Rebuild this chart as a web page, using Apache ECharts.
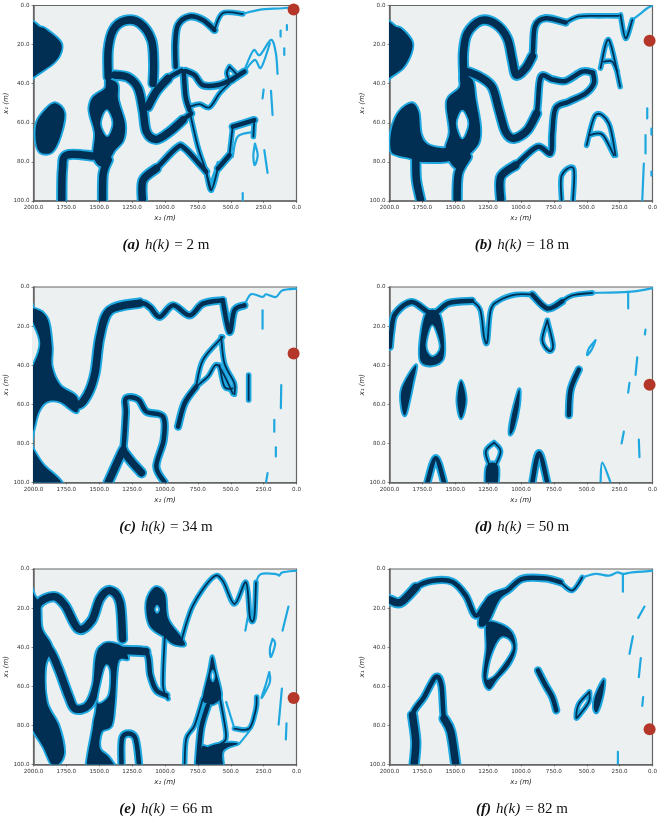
<!DOCTYPE html>
<html>
<head>
<meta charset="utf-8">
<style>html,body{margin:0;padding:0;background:#fff}#chart{width:662px;height:821px}</style>
<script src="https://cdn.jsdelivr.net/npm/echarts@6/dist/echarts.min.js"></script>
</head>
<body>
<div id="chart"></div>
<script>
const heights = [2, 18, 34, 50, 66, 82];
const letters = ['a', 'b', 'c', 'd', 'e', 'f'];

// all regions are [x2, x1] points,
// outlines that run off the frame carry a point past the axis so they leave it cleanly
// (a) h = 2
const aBlobs = [
  [[2040,10],[1950,11],[1900,12.5],[1793,19],[1800,25],[1860,30],[2000,36.5],[2040,40]],
  [[1836,50],[1765,55],[1798,67],[1861,75],[1949,75],[1982,69],[1975,60],[1911,53.5]],
  [[1575,52],[1545,46.7],[1457,42.4],[1444,38],[1363,40],[1356,48.4],[1305,60.3],[1318,69],[1381,74],[1444,81],[1500,82],[1545,76.6],[1533,65.5],[1565,57]]
];
const aHoles = [
  [[1444,53.5],[1399,60],[1439,66.8],[1487,60.3]]
];
const aWide = [
  [[1432,36.4],[1432,22.7],[1394,12.5],[1305,7.7],[1192,9],[1103,17.6],[1086,29.6],[1091,39.8]],
  [[1381,35.6],[1280,36.8],[1204,42.4],[1167,53.5],[1141,64.6],[1066,68.5],[965,64.6],[864,58.6]],
  [[1129,51.8],[1066,44],[977,37.3]],
  [[1785,100],[1780,84],[1747,76.5],[1545,77]],
  [[1475,100],[1470,86],[1432,79]],
  [[1172,100],[1167,89.4],[1066,83.4]]
];
const aMid = [
  [[965,64.6],[864,58.6],[800,55.2]],
  [[1066,44],[977,37.3],[876,33.3]],
  [[858,33.8],[843,46.7],[813,53.5]],
  [[843,33.5],[775,35.6],[712,40.7],[598,40.7],[497,38],[396,33.8]],
  [[919,31.3],[922,19.3],[901,9.9],[813,5.6],[712,7.4],[624,12.5]],
  [[1167,89.4],[1066,83.4],[914,73],[851,73],[687,85]],
  [[598,83.4],[510,76.6]],
  [[485,62],[321,58.6]]
];
const aThin = [
  [[808,55.6],[750,72.3],[699,82.6],[649,94.5]],
  [[813,51.8],[737,50.4],[661,52.1],[586,45],[510,39.8]],
  [[510,31.3],[455,35.6],[497,39],[530,34.7],[510,31.3]],
  [[687,85],[649,94.5],[598,83.4]],
  [[510,76.6],[485,62]],
  [[321,58.6],[328,67]],
  [[624,12.5],[561,3.9],[409,4.3]]
];
const aTrace = [
  [[409,4.3],[283,2.2],[106,1.4],[0,0.6]],
  [[396,33],[328,23],[278,25.3],[194,17.6],[157,24.4],[144,35]],
  [[422,36.4],[321,27.9],[270,31.8],[202,19.3]],
  [[121,12.8],[121,15.9]],
  [[73,10],[73,12.5]],
  [[93,21.9],[93,25.3]],
  [[250,43],[258,47.5]],
  [[194,43.6],[182,56]],
  [[409,96],[409,100]],
  [[316,70.6],[295,76.6],[318,81.7],[328,76.6],[316,70.6]],
  [[245,74],[220,85.6]],
  [[485,77.4],[447,67],[321,64.6]],
  [[649,90],[598,80]]
];

// (b) h = 18
const bBlobs = [
  [[2040,10],[1950,11],[1900,12.5],[1830,18.5],[1838,24.5],[1900,32],[2000,37],[2040,41]],
  [[1990,74],[1985,63.8],[1927,54.4],[1831,50],[1780,54.4],[1762,65.5],[1712,71],[1598,73],[1522,72.3],[1522,79],[1750,80],[1851,78],[1940,76.6]],
  [[1565,51.8],[1547,46.7],[1466,41.9],[1458,35.6],[1370,38],[1344,48.4],[1311,62],[1324,70.6],[1408,77.4],[1458,83.4],[1509,82.6],[1560,77.4],[1572,72.3],[1542,64.6]]
];
const bHoles = [
  [[1446,53.8],[1400,60.3],[1446,68],[1489,60.3]]
];
const bWide = [
  [[1800,79],[1795,89.4],[1762,100]],
  [[1486,100],[1476,86],[1408,77.4]],
  [[1433,38],[1438,24.4],[1408,14.2],[1306,7.7],[1193,9.4],[1104,16.8],[1066,27.9],[1036,35.6],[965,32],[914,26]],
  [[1408,33.8],[1306,36.8],[1218,41.9],[1167,53.5],[1117,64.6],[1053,68],[952,63.8],[881,55.2]],
  [[1041,81.7],[1154,87.7],[1154,100]]
];
const bMid = [
  [[965,32],[914,26],[894,10.8],[813,6.5],[661,8.7]],
  [[952,63.8],[881,55.2],[851,36.8],[762,37.8],[661,38.6],[534,33.8],[453,34.4]],
  [[453,34.4],[446,39.8],[509,45],[636,49.2],[737,52.6],[762,65.5],[775,75.7],[876,72.3],[1041,81.7],[1154,87.7]]
];
const bThin = [
  [[661,8.7],[560,5.6],[408,5.3],[256,5.3]],
  [[243,4.8],[205,16.8],[154,7.4]],
  [[691,100],[691,87],[600,83.4],[605,100]],
  [[395,32],[332,17.6],[246,41.5]],
  [[370,28.7],[306,28.7],[268,33.8]],
  [[501,71.5],[433,56],[332,60.3],[281,76.6]],
  [[476,66.3],[382,66],[294,76.6]]
];
const bTrace = [
  [[154,7.4],[104,4.8],[40,1.4],[0,0]],
  [[40,52.6],[40,57.8]],
  [[53,66.3],[53,75.7]],
  [[66,80.9],[78,100]],
  [[8,63],[8,66]],
  [[8,85],[8,87]]
];

// (c) h = 34
const cBlobs = [
  [[2040,10],[2000,11],[1936,12.8],[1886,17.9],[1861,30.6],[1861,40.8],[1798,50.2],[1672,56.1],[1672,64.1],[1798,58.7],[1899,58.7],[1962,63.8],[2000,73.1],[2040,82]],
  [[2040,78],[2000,83.3],[1925,91],[1785,100],[1750,110],[2040,110]]
];
const cHoles = [
  [[2040,17],[2000,19.6],[1955,28.9],[2000,38.8],[2040,41]]
];
const cWide = [
  [[1798,54.5],[1672,60.3],[1591,55.3],[1533,44.2],[1495,25.5],[1419,11.9],[1192,8.2]],
  [[1432,100],[1343,86.7],[1318,83.3]],
  [[1305,85],[1255,89.3],[1179,95]]
];
const cMid = [
  [[1419,11.9],[1192,8.2],[1116,10.2],[1040,15.3],[939,9.4],[813,14.5],[712,8.5],[561,6.8]],
  [[1343,86.7],[1318,83.3],[1298,64.6],[1298,57],[1204,57.5],[1141,63.8],[1015,66.3],[1010,78.2],[1066,91.8],[1002,100]],
  [[561,6.8],[510,23],[472,11.9],[396,9.4]],
  [[901,71.4],[851,59.5],[763,51]]
];
const cThin = [
  [[763,51],[712,37.4],[561,25.5]],
  [[763,51],[674,45.9],[598,40],[485,54.4]],
  [[573,25.5],[548,39],[472,49.3],[472,54.8]],
  [[586,40],[548,51],[485,51.9]],
  [[364,45],[364,57.8]]
];
const cTrace = [
  [[396,9.4],[346,3.7],[258,5.1],[232,3.7],[157,5.1],[106,1.7],[0,0.8]],
  [[258,11.9],[258,21.3]],
  [[116,50.2],[119,62]],
  [[169,68],[169,74]],
  [[157,82],[157,86.7]],
  [[220,95.2],[232,100]]
];

// (d) h = 50
const dBlobs = [
  [[1729,14.5],[1618,14.5],[1593,36.6],[1762,37.9]],
  [[1800,40],[1905,52],[1905,62],[1880,65.5],[1850,58],[1825,50]],
  [[1456,48],[1420,57.8],[1456,67.2],[1484,57.8]],
  [[1015,52.4],[1015,60.4],[1053,72.3],[1086,75.2],[1071,66.3]],
  [[1261,91.8],[1175,91.8],[1195,108],[1260,108]]
];
const dHoles = [
  [[1674,19.6],[1618,30.6],[1674,35.3],[1719,30]]
];
const dWide = [];
const dMid = [
  [[1998,30.6],[1985,22],[1955,13.6],[1828,7.7],[1676,13.6],[1549,8.2],[1372,7.1]],
  [[560,42.2],[623,52.7],[636,65.5]],
  [[914,3.9],[800,11],[686,7.3]],
  [[1712,100],[1648,87.6],[1585,100]],
  [[914,100],[863,85],[800,100]]
];
const dThin = [
  [[1372,7.1],[1309,11.9],[1281,25.5],[1256,28],[1231,12],[1168,7],[1041,3.9],[914,3.9]],
  [[686,7.3],[610,4.3],[458,3]],
  [[800,17],[756,29.8],[787,32.7],[838,27.2],[800,17]],
  [[1205,79.6],[1155,84.2],[1218,92.7],[1268,84.2],[1205,79.6]]
];
const dTrace = [
  [[458,3],[180,2.5],[28,1],[0,0.6]],
  [[185,2.5],[185,11]],
  [[433,27.2],[484,31.5],[496,34.9],[458,31.5],[433,27.2]],
  [[395,100],[382,89.8],[319,100]],
  [[53,21.8],[58,24.3]],
  [[116,36],[129,45]],
  [[175,49],[185,54]],
  [[218,74],[235,80]],
  [[104,78],[99,87]]
];

// (e) h = 66
const eBlobs = [
  [[2040,13],[1990,14],[1949,20],[1936,30.6],[1861,40],[1911,50.2],[1899,68],[1810,80],[1767,93.5],[1810,100],[1861,100],[1925,91],[2000,83],[2040,78]],
  [[1495,40.8],[1343,39],[1280,45.9],[1356,47.6],[1381,68],[1406,80],[1482,83.3],[1495,91.8],[1419,97],[1340,108],[1590,108],[1545,80],[1520,69.7]],
  [[1141,17],[1078,9.4],[1002,12.8],[977,25.5],[876,34.9],[851,39],[939,38.3],[1002,34.9],[1116,28.9]],
  [[641,44.6],[611,52.7],[573,64.6],[624,68.9],[674,68.9],[712,66.3],[667,52.7]],
  [[755,108],[725,91.8],[674,91],[586,89.3],[447,89.3],[561,93.5],[561,108]]
];
const eHoles = [
  [[1449,49.3],[1419,52.7],[1432,64.6],[1512,68],[1482,56.1]],
  [[1060,18.7],[1045,20.7],[1060,22.4],[1075,20.7]],
  [[636,51.9],[624,54.8],[636,57.5],[651,54.8]]
];
const eWide = [
  [[1975,32.3],[1970,18.7],[1848,14.1],[1760,18.7],[1659,30.6],[1558,26.4],[1495,15.3],[1419,11],[1343,17],[1323,35.7]],
  [[1975,34],[1874,41.7],[1810,51],[1735,64.6],[1684,71.4],[1583,69.7],[1520,59.5],[1482,41.7],[1318,41.7],[1146,42.2]]
];
const eMid = [
  [[1318,41.7],[1146,42.2],[1111,54.4],[1066,62],[990,64.6]],
  [[1331,100],[1323,85.9],[1230,85.9],[1197,100]],
  [[674,69.7],[725,81.6],[750,100]]
];
const eThin = [
  [[1002,34.9],[1015,59.5],[977,66.3]],
  [[876,36.6],[788,18.7],[636,4.3],[561,6],[472,17.9],[384,6.8],[354,24.7],[321,24.7],[308,6.8]],
  [[712,66.3],[775,80],[838,86.7],[851,100]],
  [[586,64.6],[535,85],[573,89.3]],
  [[472,81.6],[359,81.6],[308,71.4],[303,65.5]]
];
const eTrace = [
  [[308,6.8],[270,2.6],[157,2.6],[131,3.4],[106,1.7],[0,0.9]],
  [[389,31.5],[371,24.7]],
  [[61,19.2],[106,31.5]],
  [[182,35.7],[162,38.3],[194,45],[202,40.8],[182,35.7]],
  [[207,52.7],[202,57.8],[265,66],[232,58.7],[207,52.7]],
  [[111,61.2],[136,79.6]],
  [[76,79],[81,87.2]],
  [[535,68],[472,81.6]],
  [[434,89.3],[333,80],[308,69.7]]
];

// (f) h = 82
const fBlobs = [
  [[1322,28],[1256,14.5],[1079,10],[1167,16],[1256,28]],
  [[1261,28],[1167,28],[1071,32.3],[1041,40.8],[1091,49.3],[1180,56.1],[1243,61.5],[1286,55.3],[1263,40.8]],
  [[370,56.5],[377,63.8],[420,73],[446,71],[433,64.6]]
];
const fHoles = [
  [[1155,35.4],[1084,36.6],[1071,41.7],[1180,52.7],[1243,56.1],[1256,54.4],[1223,44.2]]
];
const fWide = [
  [[2030,15],[1992,16],[1914,17],[1800,9.4]],
  [[1813,100],[1800,88.4],[1825,74.8]],
  [[1585,76.5],[1534,83.3],[1496,100]]
];
const fMid = [
  [[1914,17],[1800,9.4],[1674,6],[1522,6.5],[1420,13.6],[1344,23.8],[1256,17],[1104,11],[990,5],[813,4.8],[699,6.8]],
  [[1800,88.4],[1825,74.8],[1737,65.5],[1650,55.3],[1605,59.5],[1585,76.5],[1534,83.3]],
  [[871,51.9],[813,59.5],[762,65.5],[732,72.3]]
];
const fThin = [
  [[699,6.8],[610,11],[534,4.3]],
  [[479,62.9],[484,68],[560,75],[580,75.7],[560,69],[479,62.9]]
];
const fTrace = [
  [[534,4.3],[433,2.5],[332,3.4],[268,1.7],[225,2.5],[154,1.7],[0,0.9]],
  [[225,2.5],[225,11.6]],
  [[61,19.2],[109,25]],
  [[149,34.4],[175,43.4]],
  [[89,45.6],[104,55.3]],
  [[71,65.5],[78,70]],
  [[263,93.5],[263,100]]
];

const panelData = [
  [aBlobs, aHoles, aWide, aMid, aThin, aTrace],
  [bBlobs, bHoles, bWide, bMid, bThin, bTrace],
  [cBlobs, cHoles, cWide, cMid, cThin, cTrace],
  [dBlobs, dHoles, dWide, dMid, dThin, dTrace],
  [eBlobs, eHoles, eWide, eMid, eThin, eTrace],
  [fBlobs, fHoles, fWide, fMid, fThin, fTrace]
];

const DARK = '#012f54';
const LIGHT = '#1fa8e0';
const BG = '#ecf0f1';
const EDGE = 3.8;
const gridW = 263;
const gridH = 195.5;
const lefts = [33.5, 389.5];
const tops = [5.5, 287, 569];
const titleTops = [231, 513, 795];

const chart = echarts.init(document.getElementById('chart'), null, { renderer: 'canvas' });

const grids = [], xAxes = [], yAxes = [], series = [], titles = [];

// curve through the projected points
function curve(pts, closed) {
  const n = pts.length;
  const at = i => closed ? pts[(i + n) % n] : pts[Math.max(0, Math.min(n - 1, i))];
  const last = closed ? n : n - 1;
  let d = 'M' + pts[0][0] + ' ' + pts[0][1];
  for (let i = 0; i < last; i++) {
    const p0 = at(i - 1), p1 = at(i), p2 = at(i + 1), p3 = at(i + 2);
    d += 'C' + (p1[0] + (p2[0] - p0[0]) / 6) + ' ' + (p1[1] + (p2[1] - p0[1]) / 6) + ' '
      + (p2[0] - (p3[0] - p1[0]) / 6) + ' ' + (p2[1] - (p3[1] - p1[1]) / 6) + ' '
      + p2[0] + ' ' + p2[1];
  }
  return closed ? d + 'Z' : d;
}

// one custom series per layer, clipped to the grid
function layer(p, list, draw, z) {
  series.push({
    type: 'custom',
    xAxisIndex: p,
    yAxisIndex: p,
    clip: true,
    silent: true,
    animation: false,
    z: z,
    data: list.map((s, i) => [i, 0]),
    encode: { x: 0, y: 1 },
    renderItem: function (params, api) {
      return draw(list[params.dataIndex].map(d => api.coord(d)));
    }
  });
}

function polygon(fill, stroke, lw) {
  return pts => ({
    type: 'path',
    shape: { pathData: curve(pts, true) },
    style: { fill: fill, stroke: stroke, lineWidth: lw, lineJoin: 'round' }
  });
}

function line(color, lw) {
  return pts => ({
    type: 'path',
    shape: { pathData: curve(pts, false) },
    style: { fill: 'none', stroke: color, lineWidth: lw, lineJoin: 'round', lineCap: 'round' }
  });
}

function axisBase() {
  return {
    axisLine: { onZero: false, lineStyle: { color: '#666', width: 1.5 } },
    axisTick: { length: 2, lineStyle: { color: '#444', width: 0.6 } },
    splitLine: { show: false }
  };
}

const labelStyle = { fontSize: 5.6, margin: 4, color: '#333', fontFamily: 'DejaVu Sans', formatter: v => v.toFixed(1) };
const nameStyle = { fontSize: 7, fontStyle: 'italic', fontFamily: 'DejaVu Sans', color: '#222' };

panelData.forEach((d, p) => {
  const col = p % 2;
  const row = Math.floor(p / 2);
  const [blobs, holes, wide, mid, thin, trace] = d;
  grids.push({ left: lefts[col], top: tops[row], width: gridW, height: gridH, show: true, backgroundColor: BG, borderColor: '#666', borderWidth: 1.2 });
  xAxes.push(Object.assign(axisBase(), {
    gridIndex: p, type: 'value', inverse: true, min: 0, max: 2000, interval: 250,
    name: 'x\u2082 (m)', nameLocation: 'middle', nameGap: 14, nameTextStyle: nameStyle,
    axisLabel: labelStyle
  }));
  yAxes.push(Object.assign(axisBase(), {
    gridIndex: p, type: 'value', inverse: true, min: 0, max: 100, interval: 20,
    name: 'x\u2081 (m)', nameLocation: 'middle', nameGap: 23, nameRotate: 90, nameTextStyle: nameStyle,
    axisLabel: labelStyle
  }));

  layer(p, blobs, polygon(LIGHT, LIGHT, EDGE), 2);
  layer(p, wide, line(LIGHT, 7.5 + EDGE), 2);
  layer(p, mid, line(LIGHT, 4.5 + EDGE), 2);
  layer(p, thin, line(LIGHT, 1.8 + EDGE), 2);
  layer(p, trace, line(LIGHT, 2.2), 2);
  layer(p, blobs, polygon(DARK, 'none', 0), 3);
  layer(p, wide, line(DARK, 7.5), 3);
  layer(p, mid, line(DARK, 4.5), 3);
  layer(p, thin, line(DARK, 1.8), 3);
  layer(p, holes, polygon(BG, LIGHT, 1.8), 4);

  titles.push({
    text: '{b|(' + letters[p] + ')} {i|h(k)} {r|= ' + heights[p] + ' m}',
    left: lefts[col] + gridW / 2 - 4, top: titleTops[row], textAlign: 'center',
    textStyle: {
      fontWeight: 'normal',
      rich: {
        b: { fontFamily: 'Liberation Serif', fontSize: 15, fontStyle: 'italic', fontWeight: 'bold', color: '#111' },
        i: { fontFamily: 'Liberation Serif', fontSize: 15, fontStyle: 'italic', fontWeight: 'normal', color: '#111' },
        r: { fontFamily: 'Liberation Serif', fontSize: 15, fontWeight: 'normal', color: '#111' }
      }
    }
  });
  series.push({
    type: 'scatter', xAxisIndex: p, yAxisIndex: p, clip: true, silent: true, animation: false, z: 6,
    symbolSize: 12, itemStyle: { color: '#b5372a', opacity: 1 },
    data: [[22, heights[p]]]
  });
});

chart.setOption({
  animation: false,
  title: titles,
  grid: grids,
  xAxis: xAxes,
  yAxis: yAxes,
  series: series
});
</script>
</body>
</html>
